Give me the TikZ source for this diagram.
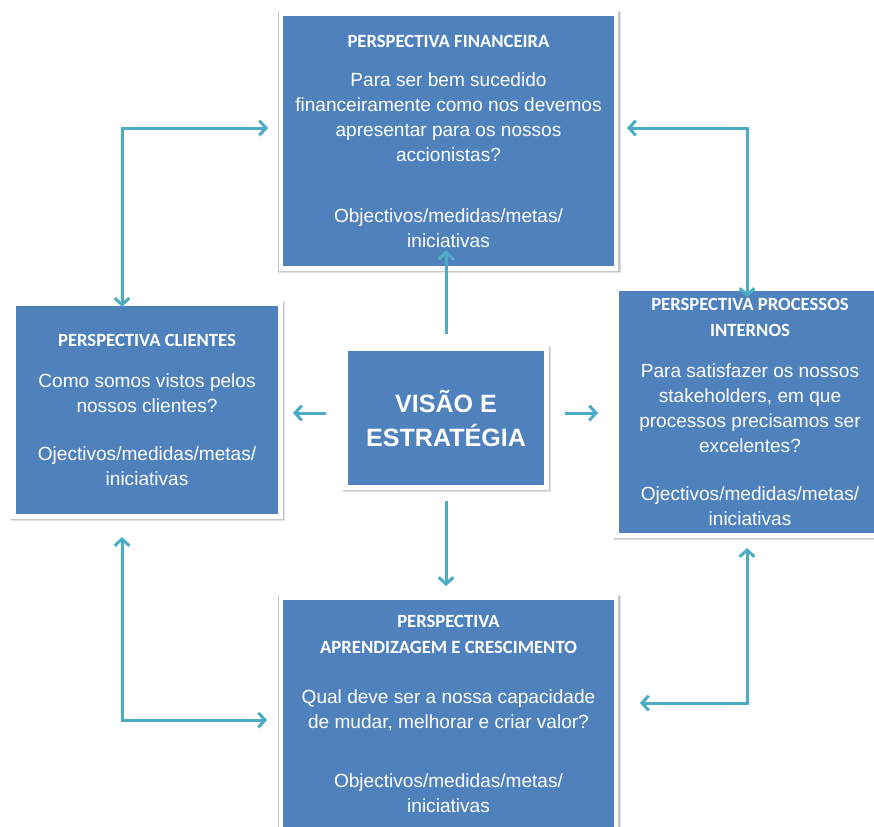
\documentclass[tikz,border=0pt]{standalone}
\usepackage{fontspec}
\setmainfont{Liberation Sans}
\newfontfamily\ttlfont{Carlito}
\usetikzlibrary{arrows.meta,calc}
\definecolor{boxblue}{RGB}{79,129,189}
\definecolor{arrc}{RGB}{75,172,198}
\newcommand\ttl[1]{{\ttlfont\bfseries\fontsize{14}{18.75}\selectfont #1}}
\begin{document}
\begin{tikzpicture}[x=0.75pt,y=-0.75pt,
  box/.style={rectangle, fill=boxblue, draw=white, line width=3.375pt,
    inner sep=0pt, outer sep=0pt, text=white, align=center,
    font=\fontsize{14.3}{18.75}\selectfont,
    preaction={draw=black!7, line width=4.3pt},
    preaction={draw=black!12, line width=5.6pt, transform canvas={shift={(0.7pt,-0.9pt)}}},
    preaction={draw=black!22, line width=4.4pt, transform canvas={shift={(0.4pt,-0.6pt)}}}},
  arr/.style={draw=arrc, line width=2.25pt,
    preaction={draw=black!15, transform canvas={shift={(0.5pt,-0.6pt)}}}},
  >={Straight Barb[length=5pt,width=11pt]}]
\useasboundingbox (0,0) rectangle (874,826);
\fill[white] (0,0) rectangle (874,826);

% boxes
\node[box, minimum width=251.6pt, minimum height=190.9pt] (fin) at (448.5,141)
  {\ttl{PERSPECTIVA FINANCEIRA}\\[10.5pt]
   Para ser bem sucedido\\
   financeiramente como nos devemos\\
   apresentar para os nossos\\
   accionistas?\\[27pt]
   Objectivos/medidas/metas/\\
   iniciativas};

\node[box, minimum width=199.9pt, minimum height=159.4pt] (cli) at (147,410)
  {\ttl{PERSPECTIVA CLIENTES}\\[12pt]
   Como somos vistos pelos\\
   nossos clientes?\\[17.25pt]
   Ojectivos/medidas/metas/\\
   iniciativas};

\node[box, minimum width=150.4pt, minimum height=103.9pt,
  font=\fontsize{18.8}{25.5}\selectfont\bfseries] (vis) at (446,418)
  {VISÃO E\\ESTRATÉGIA};

\node[box, minimum width=199.9pt, minimum height=184.9pt] (proc) at (750,412)
  {\ttl{PERSPECTIVA PROCESSOS}\\[0.75pt]
   \ttl{INTERNOS}\\[12pt]
   Para satisfazer os nossos\\
   stakeholders, em que\\
   processos precisamos ser\\
   excelentes?\\[17.25pt]
   Ojectivos/medidas/metas/\\
   iniciativas};

\node[box, minimum width=251.6pt, minimum height=174.4pt] (apr) at (448.5,714)
  {\ttl{PERSPECTIVA}\\[0.75pt]
   \ttl{APRENDIZAGEM E CRESCIMENTO}\\[18.75pt]
   Qual deve ser a nossa capacidade\\
   de mudar, melhorar e criar valor?\\[25.5pt]
   Objectivos/medidas/metas/\\
   iniciativas};

% centre arrows
\draw[arr,->] ($(vis.north)+(0,-14.75)$) -- ($(vis.north |- fin.south)+(0,-18)$);
\draw[arr,->] ($(vis.south)+(0,13.75)$) -- ($(vis.south |- apr.north)+(0,-11.75)$);
\draw[arr,->] ($(vis.west)+(-19.75,-5)$) -- ($(cli.east)+(12.75,3)$);
\draw[arr,->] ($(vis.east)+(18.75,-5)$) -- ($(proc.west)+(-18.75,1)$);

% corner arrows
\draw[arr,<->] ($(cli.north)+(-25,3)$) |- ($(fin.west)+(-12.75,-13)$);
\draw[arr,<->] ($(fin.east)+(10.75,-13)$) -| ($(proc.north)+(-3,8.25)$);
\draw[arr,<->] ($(proc.south)+(-3,12.75)$) |- ($(apr.east)+(23.75,-11)$);
\draw[arr,<->] ($(cli.south)+(-25,20.75)$) |- ($(apr.west)+(-13.75,6)$);
\end{tikzpicture}
\end{document}
